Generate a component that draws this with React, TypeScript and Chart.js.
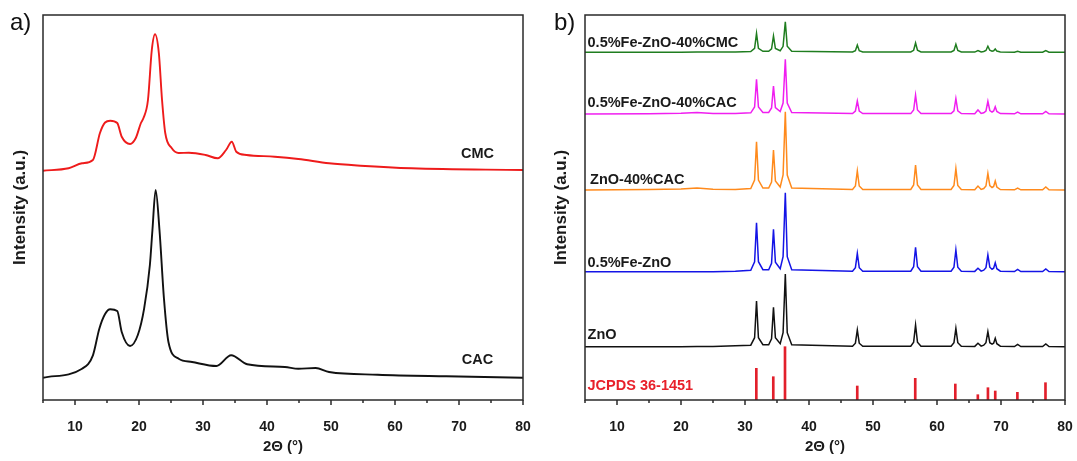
import React, { useEffect, useRef } from 'react';
import { Chart, registerables } from 'chart.js';

Chart.register(...registerables);

const FONT = "'Liberation Sans', Arial, Helvetica, sans-serif";

// ---------- Panel a: raw polysaccharide patterns ----------
const cmcTheta = [5, 9, 11.1, 12.8, 13.9, 14.7, 15.5, 16.6, 17.3, 18.6, 19.5, 20.3, 20.7, 21.4, 22.0, 22.5, 23.1, 23.6, 24.1, 25.1, 26.2, 27.8, 30.4, 32.3, 33.6, 34.5, 35.2, 36.8, 41.2, 44.9, 49.7, 54.6, 62.6, 80];
const cmcIntensity = [229.3, 231.7, 236.7, 240, 267, 277.5, 279.3, 277, 263.3, 256, 262, 277, 282, 300, 350, 365.7, 347, 300, 267, 252, 247, 247.3, 245, 241.7, 250, 258.3, 248.3, 245, 243.3, 241, 236.7, 234.3, 231.7, 230];

const cacTheta = [5, 11.1, 12.8, 13.8, 14.7, 15.5, 16.6, 17.3, 18.6, 19.8, 20.8, 21.7, 22.1, 22.6, 23.2, 23.9, 24.6, 26.2, 28.3, 32.1, 34.4, 36.9, 42.8, 44.9, 47.6, 49.7, 57.3, 68, 80];
const cacIntensity = [22.3, 31.3, 44.7, 71.3, 86, 90.7, 89, 68, 54, 64.7, 91.3, 135, 170, 210, 170, 101.3, 58, 41.3, 38, 34, 44.7, 35.7, 33, 31.3, 32, 28, 25.3, 23.7, 22.3];

const panelALabels = ['CMC', 'CAC'];
const panelALabelTheta = [72.9, 72.9];
const panelALabelY = [246, 39.7];

// ---------- Panel b: ZnO based patterns ----------
const bTheta = [5, 15, 20, 22.5, 25, 28.5, 30.9, 31.5, 31.8, 32.1, 32.8, 33.7, 34.15, 34.45, 34.75, 35.5, 35.95, 36.3, 36.6, 37.3, 46.8, 47.25, 47.55, 47.85, 48.4, 55.9, 56.35, 56.65, 56.95, 57.5, 62.2, 62.65, 62.95, 63.25, 63.8, 65.9, 66.4, 66.9, 67.3, 67.65, 67.95, 68.25, 68.6, 68.85, 69.1, 69.35, 69.9, 72.1, 72.6, 73.1, 76.5, 77.0, 77.5, 80];

const znoI = [0, 0, 0, 0.3, 0.3, 1.0, 1.5, 9, 45.7, 9, 2, 2, 8, 39.4, 9, 3, 14, 72.7, 14, 2, 0.5, 3.5, 16.7, 3.5, 0.5, 0.5, 4.5, 21.7, 4.5, 0.5, 0.5, 4, 18.4, 4, 0.5, 0.3, 3.4, 0.6, 1.5, 4, 15, 4, 2.5, 3.5, 8.4, 3, 0.5, 0.2, 2.4, 0.2, 0.2, 2.7, 0.2, 0];
const feZnoI = [0, 0, 0, 0, 0, 0.5, 1.5, 10, 49, 10, 2, 2, 8.5, 42.4, 9.5, 3, 15, 79, 15, 2, 0.5, 4, 18.4, 4, 0.5, 0.5, 5, 24.4, 5, 0.5, 0.5, 4.5, 21.7, 4.5, 0.5, 0.3, 3.4, 0.6, 1.5, 4, 16.7, 4.5, 2.5, 3.5, 9, 3, 0.5, 0.2, 2.4, 0.2, 0.2, 2.7, 0.2, 0];
const znoCacI = [0, 0.5, 1, 2, 0.8, 0.5, 1.5, 10, 48.3, 10, 2, 2, 8, 40, 9, 3, 15, 78.3, 15, 2, 0.5, 4, 19, 4, 0.5, 0.5, 5, 25, 5, 0.5, 0.5, 4.5, 21.3, 4.5, 0.5, 0.3, 4, 0.6, 1.5, 4, 16.6, 4.5, 2.5, 3.5, 9, 3, 0.5, 0.2, 2, 0.2, 0.2, 3, 0.2, 0];
const feZnoCacI = [0, 0.3, 0.8, 1.5, 0.6, 0.4, 1.2, 7, 34.7, 7, 1.5, 1.5, 6, 28, 6.5, 2.5, 11, 54.7, 11, 1.5, 0.4, 3, 13, 3, 0.4, 0.4, 4, 18.9, 4, 0.4, 0.4, 3.2, 15.5, 3.2, 0.4, 0.3, 4, 0.5, 1.2, 3, 12.7, 3.5, 2, 3, 7.3, 2.5, 0.4, 0.2, 2, 0.2, 0.2, 2.5, 0.2, 0];
const feZnoCmcI = [0, 0, 0, 0.3, 0.3, 0.3, 0.8, 4, 19, 4, 1, 1, 3.5, 16.3, 3.8, 1.5, 6, 30.6, 6, 1, 0.3, 1.6, 7.3, 1.6, 0.3, 0.3, 2, 9.3, 2, 0.3, 0.3, 1.8, 8, 1.8, 0.3, 0.2, 1.7, 0.3, 0.8, 1.8, 6, 2, 1, 1.5, 3.3, 1.2, 0.3, 0.1, 1, 0.1, 0.1, 1.7, 0.1, 0];

const bSeriesNames = ['ZnO', '0.5%Fe-ZnO', 'ZnO-40%CAC', '0.5%Fe-ZnO-40%CAC', '0.5%Fe-ZnO-40%CMC'];
const bSeriesOffsets = [53.3, 128.3, 210, 286, 347.7];
const bSeriesLabelY = [65, 137.3, 220, 297.3, 356.7];

const jcpdsTheta = [31.77, 34.42, 36.25, 47.54, 56.6, 62.86, 66.38, 67.96, 69.1, 72.56, 76.95];
const jcpdsIntensity = [31.7, 23.3, 53.3, 14, 21.7, 16, 5.3, 12.3, 9, 7.7, 17.3];
const jcpdsLabel = 'JCPDS 36-1451';
const jcpdsLabelY = 14;

const xTitle = '2\u0398 (\u00b0)';
const yTitle = 'Intensity (a.u.)';

// ---------- styling ----------
const bColors = ['#111111', '#1414e6', '#ff8a1c', '#f01ff0', '#1f7d1f'];

const framePlugin = {
  id: 'frame',
  afterDatasetsDraw(chart: any, _args: any, opts: any) {
    const { ctx, chartArea } = chart;
    const { left, right, top, bottom } = chartArea;
    const xs = chart.scales.x;
    const ys = chart.scales.y;
    ctx.save();
    ctx.strokeStyle = '#2a2a2a';
    ctx.lineWidth = 1.5;
    ctx.strokeRect(left, top, right - left, bottom - top);
    xs.ticks.forEach((t: any) => {
      const px = xs.getPixelForValue(t.value);
      const len = t.value % 10 === 0 ? 5 : 3;
      ctx.beginPath();
      ctx.moveTo(px, bottom);
      ctx.lineTo(px, bottom + len);
      ctx.stroke();
    });
    (opts.labels || []).forEach((l: any) => {
      ctx.font = `bold 14.5px ${FONT}`;
      ctx.fillStyle = l.color;
      ctx.textAlign = l.align;
      ctx.textBaseline = 'middle';
      ctx.fillText(l.text, xs.getPixelForValue(l.x), ys.getPixelForValue(l.y));
    });
    ctx.restore();
  },
};

function makeScales(yWidth: number, yTitlePad: number) {
  return {
    x: {
      type: 'linear',
      min: 5,
      max: 80,
      offset: false,
      grid: { display: false, drawTicks: false, offset: false },
      border: { display: false },
      ticks: {
        stepSize: 5,
        autoSkip: false,
        maxRotation: 0,
        padding: 19,
        color: '#1a1a1a',
        font: { family: FONT, size: 14, weight: 'bold' },
        callback: (v: any) => (v % 10 === 0 ? String(v) : ''),
      },
      title: {
        display: true,
        text: xTitle,
        color: '#1a1a1a',
        font: { family: FONT, size: 15, weight: 'bold' },
        padding: { top: 0, bottom: 5 },
      },
      afterFit: (s: any) => {
        s.height = 61;
        s.paddingLeft = 0;
        s.paddingRight = 0;
      },
    },
    y: {
      type: 'linear',
      min: 0,
      max: 385,
      grid: { display: false, drawTicks: false },
      border: { display: false },
      ticks: { display: false },
      title: {
        display: true,
        text: yTitle,
        color: '#1a1a1a',
        font: { family: FONT, size: 17, weight: 'bold' },
        padding: { top: yTitlePad, bottom: 0 },
      },
      afterFit: (s: any) => {
        s.width = yWidth;
        s.paddingTop = 0;
        s.paddingBottom = 0;
      },
    },
  };
}

function configA(): any {
  return {
    type: 'line',
    data: {
      datasets: [
        {
          label: 'CMC',
          data: cmcTheta.map((x, i) => ({ x, y: cmcIntensity[i] })),
          borderColor: '#ee1b1b',
          borderWidth: 1.9,
          pointRadius: 0,
          cubicInterpolationMode: 'monotone',
        },
        {
          label: 'CAC',
          data: cacTheta.map((x, i) => ({ x, y: cacIntensity[i] })),
          borderColor: '#111111',
          borderWidth: 1.9,
          pointRadius: 0,
          cubicInterpolationMode: 'monotone',
        },
      ],
    },
    options: {
      animation: false,
      responsive: false,
      devicePixelRatio: 1,
      layout: { padding: { top: 15, right: 17, left: 0, bottom: 0 } },
      plugins: {
        legend: { display: false },
        tooltip: { enabled: false },
        frame: {
          labels: panelALabels.map((t, i) => ({
            text: t,
            x: panelALabelTheta[i],
            y: panelALabelY[i],
            color: '#1a1a1a',
            align: 'center',
          })),
        },
      },
      scales: makeScales(43, 10),
    },
    plugins: [framePlugin],
  };
}

function configB(): any {
  const lines = [znoI, feZnoI, znoCacI, feZnoCacI, feZnoCmcI].map((arr, k) => ({
    type: 'line',
    label: bSeriesNames[k],
    data: bTheta.map((x, i) => ({ x, y: arr[i] + bSeriesOffsets[k] })),
    borderColor: bColors[k],
    borderWidth: 1.5,
    pointRadius: 0,
    tension: 0,
  }));
  const sticks = {
    type: 'bar',
    label: jcpdsLabel,
    data: jcpdsTheta.map((x, i) => ({ x, y: jcpdsIntensity[i] })),
    backgroundColor: '#e21f2b',
    barThickness: 2,
  };
  const labels = bSeriesNames.map((t, k) => ({
    text: t,
    x: k === 2 ? 5.8 : 5.4,
    y: bSeriesLabelY[k],
    color: '#1a1a1a',
    align: 'left',
  }));
  labels.push({ text: jcpdsLabel, x: 5.4, y: jcpdsLabelY, color: '#e8202a', align: 'left' });
  return {
    type: 'line',
    data: { datasets: [sticks, ...lines] },
    options: {
      animation: false,
      responsive: false,
      devicePixelRatio: 1,
      layout: { padding: { top: 15, right: 12, left: 0, bottom: 0 } },
      plugins: {
        legend: { display: false },
        tooltip: { enabled: false },
        frame: { labels },
      },
      scales: makeScales(45, 11),
    },
    plugins: [framePlugin],
  };
}

function ChartCanvas({ make, left, width }: { make: () => any; left: number; width: number }) {
  const ref = useRef<HTMLCanvasElement>(null);
  useEffect(() => {
    const chart = new Chart(ref.current as HTMLCanvasElement, make());
    return () => chart.destroy();
  }, []);
  return (
    <canvas
      ref={ref}
      width={width}
      height={461}
      style={{ position: 'absolute', left, top: 0, width, height: 461 }}
    />
  );
}

export default function App() {
  const tag: React.CSSProperties = {
    position: 'absolute',
    top: 10,
    fontFamily: FONT,
    fontSize: 24,
    lineHeight: '24px',
    color: '#111',
  };
  return (
    <div
      style={{
        position: 'fixed',
        left: 0,
        top: 0,
        width: 1077,
        height: 461,
        background: '#ffffff',
        overflow: 'hidden',
      }}
    >
      <ChartCanvas make={configA} left={0} width={540} />
      <ChartCanvas make={configB} left={540} width={537} />
      <div style={{ ...tag, left: 10 }}>a)</div>
      <div style={{ ...tag, left: 554 }}>b)</div>
    </div>
  );
}
